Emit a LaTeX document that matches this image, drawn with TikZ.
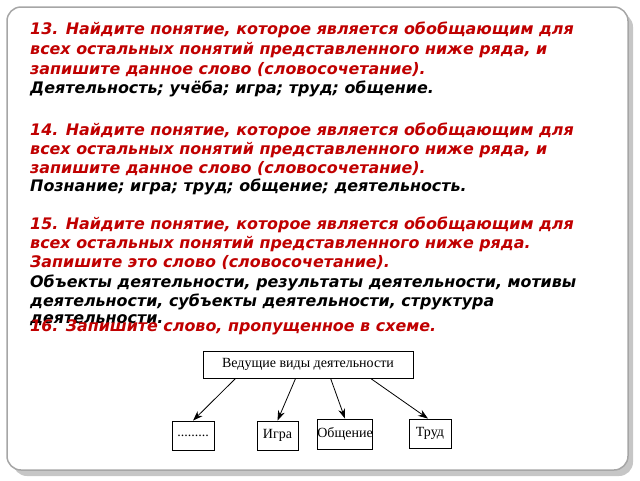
\documentclass[tikz,border=0pt]{standalone}
\usepackage{fontspec}
\setmainfont{DejaVu Sans}
\newfontfamily\serifru{Liberation Serif}
\usetikzlibrary{arrows.meta}
\definecolor{qred}{RGB}{192,0,0}
\begin{document}
\begin{tikzpicture}[x=1pt,y=-1pt,
  ln/.style={anchor=west,inner sep=0pt,font=\fontsize{15.9}{18}\selectfont\bfseries\itshape},
  rd/.style={ln,text=qred},
  bx/.style={draw,thick,inner sep=0pt,font=\serifru\fontsize{14}{16}\selectfont},
  ar/.style={-{Stealth[length=10pt,width=7pt]},thick}]
\useasboundingbox (0,0) rectangle (640,480);
\fill[gray!45,rounded corners=14pt] (13,13) rectangle (633,476);
\draw[gray!70,line width=1.5pt,fill=white,rounded corners=14pt] (7,7) rectangle (628,470);
\node[rd] (l1) at (30,30) {13. Найдите понятие, которое является обобщающим для};
\node[rd] (l2) at (30,50) {всех остальных понятий представленного ниже ряда, и};
\node[rd] (l3) at (30,70) {запишите данное слово (словосочетание).};
\node[ln] (l4) at (30,89) {Деятельность; учёба; игра; труд; общение.};
\node[rd] (l5) at (30,131) {14. Найдите понятие, которое является обобщающим для};
\node[rd] (l6) at (30,150) {всех остальных понятий представленного ниже ряда, и};
\node[rd] (l7) at (30,169) {запишите данное слово (словосочетание).};
\node[ln] (l8) at (30,187) {Познание; игра; труд; общение; деятельность.};
\node[rd] (l9) at (30,225) {15. Найдите понятие, которое является обобщающим для};
\node[rd] (l10) at (30,244) {всех остальных понятий представленного ниже ряда.};
\node[rd] (l11) at (30,263) {Запишите это слово (словосочетание).};
\node[ln] (l12) at (30,283) {Объекты деятельности, результаты деятельности, мотивы};
\node[ln] (l13) at (30,302) {деятельности, субъекты деятельности, структура};
\node[ln] (l14) at (30,320) {деятельности.};
\node[rd] (l15) at (30,327) {16. Запишите слово, пропущенное в схеме.};
\node[bx,minimum width=210pt,minimum height=27pt] (top) at (308,364.5) {Ведущие виды деятельности};
\node[bx,minimum width=42pt,minimum height=29pt] (b1) at (193,435.5) {.........};
\node[bx,minimum width=41pt,minimum height=29pt] (b2) at (277.5,435.5) {Игра};
\node[bx,minimum width=54pt,minimum height=30pt] (b3) at (345,434) {Общение};
\node[bx,minimum width=42pt,minimum height=29pt] (b4) at (430,433.5) {Труд};
\draw[ar] ([xshift=33pt]top.south west) -- (b1.north);
\draw[ar] ([xshift=93pt]top.south west) -- (b2.north);
\draw[ar] ([xshift=128pt]top.south west) -- (b3.north);
\draw[ar] ([xshift=168pt]top.south west) -- ([xshift=-2pt]b4.north);
\end{tikzpicture}
\end{document}
